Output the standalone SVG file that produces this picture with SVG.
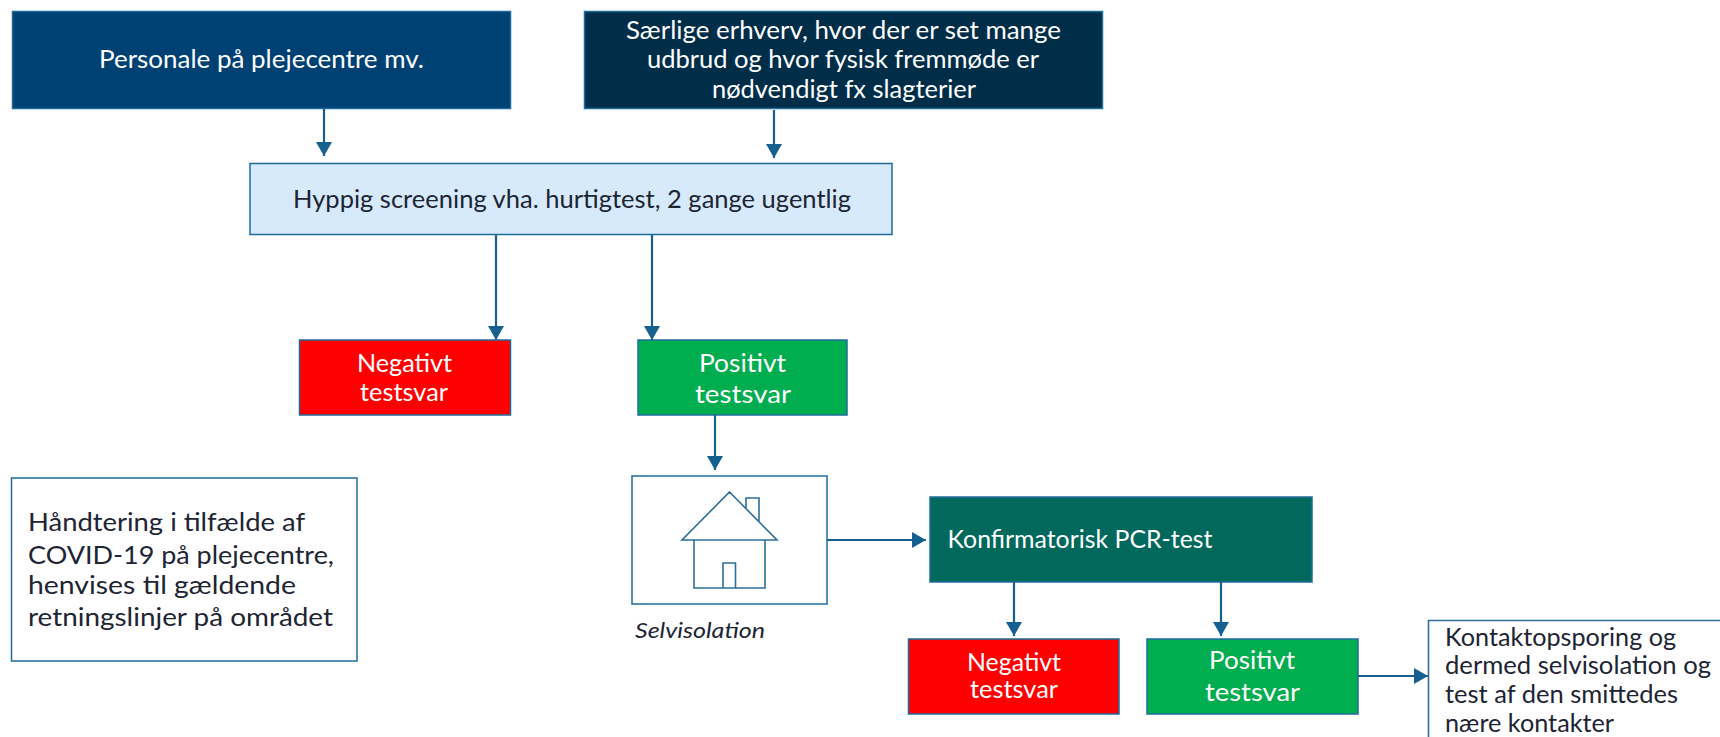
<svg xmlns="http://www.w3.org/2000/svg" width="1720" height="737" viewBox="0 0 1720 737">
<style>
.b{stroke:#1f6c9c;stroke-width:1.5}
.t{font-family:Lato,"Open Sans","Liberation Sans",sans-serif;font-size:25px}
.w{fill:#fff}.d{fill:#1d2433}
.c{stroke:#15608f;stroke-width:2.2;fill:none;marker-end:url(#a)}
.h{stroke:#2d6f9c;stroke-width:1.6;fill:none}
</style>
<defs><marker id="a" markerUnits="userSpaceOnUse" markerWidth="15" markerHeight="18" refX="14" refY="8" orient="auto"><path d="M0 0L14 8L0 16z" fill="#15608f"/></marker></defs>
<rect width="1720" height="737" fill="#fff"/>
<g id="connectors">
<path class="c" d="M324 108V156"/>
<path class="c" d="M774 110V158"/>
<path class="c" d="M496 235V340"/>
<path class="c" d="M652 235V340"/>
<path class="c" d="M715 415V470"/>
<path class="c" d="M827 540H926"/>
<path class="c" d="M1014 582V636"/>
<path class="c" d="M1221 582V636"/>
<path class="c" d="M1358 676H1428"/>
</g>
<g id="personale"><rect class="b" x="12.5" y="11.5" width="498" height="97" fill="#004174"/><text class="t w" x="99" y="68" textLength="325" lengthAdjust="spacingAndGlyphs">Personale på plejecentre mv.</text></g>
<g id="saerlige"><rect class="b" x="584.5" y="11.5" width="518" height="97" fill="#002e49"/>
<text class="t w" x="626" y="39" textLength="435" lengthAdjust="spacingAndGlyphs">Særlige erhverv, hvor der er set mange</text>
<text class="t w" x="647" y="68" textLength="392" lengthAdjust="spacingAndGlyphs">udbrud og hvor fysisk fremmøde er</text>
<text class="t w" x="712" y="98" textLength="264" lengthAdjust="spacingAndGlyphs">nødvendigt fx slagterier</text></g>
<g id="screening"><rect class="b" x="250" y="163.5" width="642" height="71" fill="#d6eafc"/><text class="t d" x="293" y="208" textLength="558" lengthAdjust="spacingAndGlyphs">Hyppig screening vha. hurtigtest, 2 gange ugentlig</text></g>
<g id="negativ1"><rect class="b" x="299.5" y="340" width="211" height="75" fill="#f00"/><text class="t w" x="357" y="372" textLength="95" lengthAdjust="spacingAndGlyphs">Negativt</text><text class="t w" x="360" y="401" textLength="88" lengthAdjust="spacingAndGlyphs">testsvar</text></g>
<g id="positiv1"><rect class="b" x="638" y="340" width="209" height="75" fill="#00ad4f"/><text class="t w" x="699" y="372" textLength="87" lengthAdjust="spacingAndGlyphs">Positivt</text><text class="t w" x="695" y="403" textLength="96" lengthAdjust="spacingAndGlyphs">testsvar</text></g>
<g id="haandtering"><rect class="b" x="11.5" y="478" width="345.5" height="183" fill="#fff"/>
<text class="t d" x="28" y="531" textLength="277" lengthAdjust="spacingAndGlyphs">Håndtering i tilfælde af</text>
<text class="t d" x="28" y="564" textLength="306" lengthAdjust="spacingAndGlyphs">COVID-19 på plejecentre,</text>
<text class="t d" x="28" y="594" textLength="268" lengthAdjust="spacingAndGlyphs">henvises til gældende</text>
<text class="t d" x="28" y="626" textLength="305" lengthAdjust="spacingAndGlyphs">retningslinjer på området</text></g>
<g id="selvisolation"><rect class="b" x="632" y="476" width="195" height="128" fill="#fff"/>
<path class="h" d="M729.5 492L777 540H682zM694 540V588H765V540M723 588V563H735.5V588M746 508V498H759V521"/>
<text class="t d" style="font-size:22px;font-style:italic" x="635" y="638" textLength="130" lengthAdjust="spacingAndGlyphs">Selvisolation</text></g>
<g id="pcr"><rect class="b" x="930" y="497" width="382" height="85" fill="#00695c"/><text class="t w" x="947.5" y="548" textLength="265" lengthAdjust="spacingAndGlyphs">Konfirmatorisk PCR-test</text></g>
<g id="negativ2"><rect class="b" x="908.5" y="639" width="210.5" height="75" fill="#f00"/><text class="t w" x="967" y="671" textLength="94" lengthAdjust="spacingAndGlyphs">Negativt</text><text class="t w" x="970" y="698" textLength="88" lengthAdjust="spacingAndGlyphs">testsvar</text></g>
<g id="positiv2"><rect class="b" x="1147" y="639" width="211" height="75" fill="#00ad4f"/><text class="t w" x="1209" y="669" textLength="86" lengthAdjust="spacingAndGlyphs">Positivt</text><text class="t w" x="1205" y="701" textLength="95" lengthAdjust="spacingAndGlyphs">testsvar</text></g>
<g id="kontakt"><path class="h" d="M1428.5 737V620.5H1720"/>
<text class="t d" x="1445" y="646" textLength="231" lengthAdjust="spacingAndGlyphs">Kontaktopsporing og</text>
<text class="t d" x="1445" y="674" textLength="266" lengthAdjust="spacingAndGlyphs">dermed selvisolation og</text>
<text class="t d" x="1445" y="703" textLength="233" lengthAdjust="spacingAndGlyphs">test af den smittedes</text>
<text class="t d" x="1445" y="732" textLength="169" lengthAdjust="spacingAndGlyphs">nære kontakter</text></g>
</svg>
